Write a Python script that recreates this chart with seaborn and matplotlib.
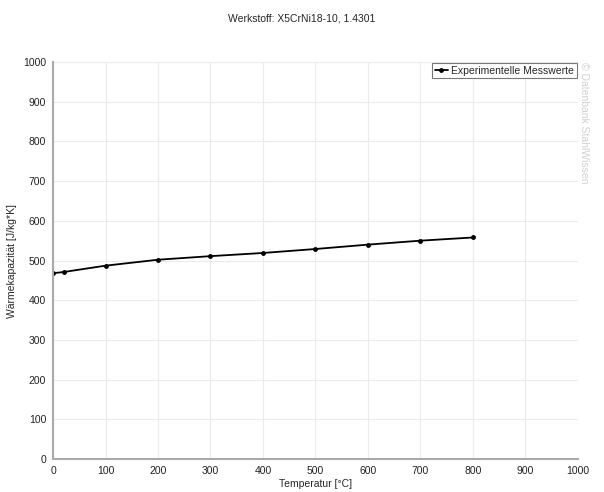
import matplotlib
matplotlib.use("Agg")
import matplotlib.pyplot as plt
import seaborn as sns
import pandas as pd

temperatures = [0, 20, 100, 200, 300, 400, 500, 600, 700, 800]
heat_capacity = [468, 471, 487, 502, 511, 519, 529, 540, 550, 558]
x_ticks = [0, 100, 200, 300, 400, 500, 600, 700, 800, 900, 1000]
y_ticks = [0, 100, 200, 300, 400, 500, 600, 700, 800, 900, 1000]
series_name = "Experimentelle Messwerte"

sns.set_style("whitegrid")
plt.rcParams["font.family"] = ["Liberation Sans", "DejaVu Sans"]

df = pd.DataFrame({"Temperatur": temperatures, "cp": heat_capacity, "Serie": series_name})

fig = plt.figure(figsize=(6.04, 4.92), dpi=100)
ax = fig.add_axes([0.0878, 0.067, 0.869, 0.807])

sns.lineplot(data=df, x="Temperatur", y="cp", hue="Serie", palette=["black"],
             marker="o", markersize=3.5, markeredgewidth=0, linewidth=1.3, ax=ax)

ax.set_xlim(0, 1000)
ax.set_ylim(0, 1000)
ax.set_xticks(x_ticks)
ax.set_yticks(y_ticks)
ax.tick_params(axis="both", labelsize=7.5, length=3, width=0.8, pad=2,
               colors="#999999", labelcolor="#222222")
ax.grid(color="#ebebeb", linewidth=0.8)
for side in ["top", "right"]:
  ax.spines[side].set_visible(False)
for side in ["left", "bottom"]:
  ax.spines[side].set_color("#aaaaaa")
  ax.spines[side].set_linewidth(1.5)

ax.set_xlabel("Temperatur [°C]", fontsize=7.5, labelpad=2)
ax.set_ylabel("Wärmekapazität [J/kg*K]", fontsize=7.5, labelpad=4)

leg = ax.legend(loc="upper right", fontsize=7.5, frameon=True, fancybox=False,
                borderpad=0.25, handlelength=1.3, handletextpad=0.3,
                borderaxespad=0.1, framealpha=1)
leg.get_frame().set_edgecolor("#777777")
leg.get_frame().set_linewidth(0.8)

fig.text(0.5, 0.963, "Werkstoff: X5CrNi18-10, 1.4301", ha="center", va="center", fontsize=7.5)
fig.text(0.967, 0.874, "© Datenbank StahlWissen", rotation=270, ha="center", va="top",
         fontsize=7.5, color="#d0d0d0")

fig.savefig("out.png", dpi=100)
